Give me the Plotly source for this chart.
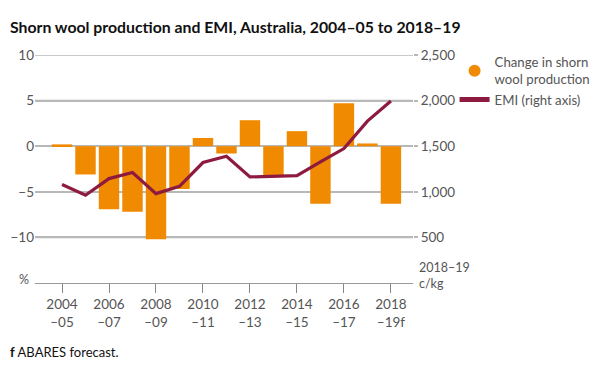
import plotly.graph_objects as go

years = ["2004–05", "2005–06", "2006–07", "2007–08", "2008–09", "2009–10", "2010–11",
         "2011–12", "2012–13", "2013–14", "2014–15", "2015–16", "2016–17", "2017–18", "2018–19"]
tick_labels = ["2004<br>–05", "2006<br>–07", "2008<br>–09", "2010<br>–11",
               "2012<br>–13", "2014<br>–15", "2016<br>–17", "2018<br>–19f"]
wool_change = [0.2, -3.1, -6.9, -7.2, -10.2, -4.7, 0.9, -0.8, 2.85, -3.2, 1.65, -6.3, 4.7, 0.3, -6.3]
emi = [1080, 962, 1145, 1211, 980, 1060, 1321, 1390, 1163, 1170, 1178, 1328, 1474, 1775, 1995]

left_vals = [-10, -5, 0, 5, 10]
left_text = ["−10", "−5", "0", "5", "10"]
right_vals = [500, 1000, 1500, 2000, 2500]
right_text = ["500", "1,000", "1,500", "2,000", "2,500"]

ORANGE = "#F08A00"
CRIMSON = "#8E1B3F"
GREY = "#555555"
GRID = "#B8B8B8"
FONT = "Lato"
TICKFONT = 13.5

major_years = years[0::2]
minor_years = years[1::2]

fig = go.Figure()
fig.add_trace(go.Bar(x=years, y=wool_change, marker=dict(color=ORANGE, line=dict(width=0)),
                     showlegend=False, yaxis="y"))
fig.add_trace(go.Scatter(x=[None], y=[None], mode="markers",
                         marker=dict(color=ORANGE, size=16, symbol="circle"),
                         name="Change in shorn<br>wool production"))
fig.add_trace(go.Scatter(x=years, y=emi, mode="lines", line=dict(color=CRIMSON, width=3.2),
                         name="EMI (right axis)", yaxis="y2"))

# horizontal gridlines at the left-axis tick values
for v in left_vals:
    fig.add_hline(y=v, line=dict(color=GRID, width=1.5), layer="below")

fig.update_layout(
    width=595, height=357,
    margin=dict(l=27, r=190, t=47, b=82, autoexpand=False),
    paper_bgcolor="white", plot_bgcolor="white",
    font=dict(family=FONT, size=12, color=GREY),
    bargap=0.13,
    showlegend=True,
    legend=dict(x=1.11, y=1.035, xanchor="left", yanchor="top",
                font=dict(size=13.2, color=GREY), tracegroupgap=0,
                itemsizing="constant", bgcolor="rgba(0,0,0,0)", borderwidth=0),
    xaxis=dict(type="category", categoryorder="array", categoryarray=years,
               range=[-1.15, 14.94], tickvals=major_years, ticktext=tick_labels,
               ticks="outside", ticklen=9, tickcolor="#888888", tickwidth=1,
               showline=True, linecolor="#999999", linewidth=1, showgrid=False,
               tickfont=dict(size=TICKFONT, color=GREY), zeroline=False),
    xaxis2=dict(type="category", categoryorder="array", categoryarray=years,
                range=[-1.15, 14.94], overlaying="x", anchor="y", side="bottom",
                tickvals=minor_years, showticklabels=False,
                ticks="outside", ticklen=5, tickcolor="#888888", tickwidth=1,
                showline=False, showgrid=False, zeroline=False),
    yaxis=dict(range=[-15, 10], tickvals=left_vals, ticktext=left_text,
               showgrid=True, gridcolor=GRID, gridwidth=1.5, zeroline=False,
               ticks="", tickfont=dict(size=TICKFONT, color=GREY), layer="below traces"),
    yaxis2=dict(range=[0, 2500], overlaying="y", side="right", tickvals=right_vals,
                ticktext=right_text, showgrid=False, zeroline=False,
                ticks="outside", ticklen=4, tickcolor=GRID, tickwidth=1.5,
                tickfont=dict(size=TICKFONT, color=GREY)),
    annotations=[
        dict(text="<b>Shorn wool production and EMI, Australia, 2004–05 to 2018–19</b>",
             xref="paper", yref="paper", x=-0.0714, y=1.123, xanchor="left", yanchor="middle",
             showarrow=False, font=dict(size=15.8, color="#111111", family=FONT)),
        dict(text="%", xref="paper", yref="paper", x=-0.01, y=-0.026, xanchor="right", yanchor="bottom",
             showarrow=False, font=dict(size=12.5, color=GREY)),
        dict(text="2018–19<br>c/kg", xref="paper", yref="paper", x=1.01, y=-0.045,
             xanchor="left", yanchor="bottom", align="left", showarrow=False,
             font=dict(size=12.5, color=GREY)),
        dict(text="<b>f</b> ABARES forecast.", xref="paper", yref="paper", x=-0.0714, y=-0.303,
             xanchor="left", yanchor="middle", showarrow=False,
             font=dict(size=13, color="#111111")),
    ],
)

fig.write_html("out.html")
